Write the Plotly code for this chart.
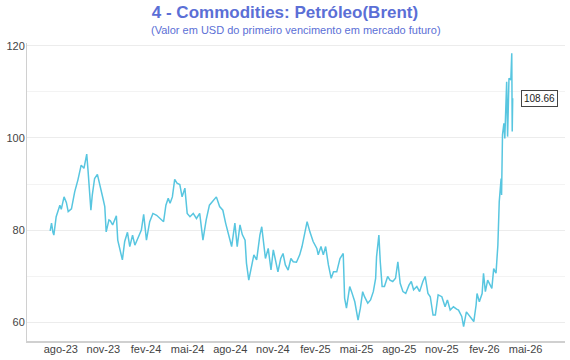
import plotly.graph_objects as go

dates = [
    "2023-07-09", "2023-07-12", "2023-07-15", "2023-07-17", "2023-07-22", "2023-07-30",
    "2023-08-02", "2023-08-08", "2023-08-13", "2023-08-17", "2023-08-24", "2023-08-31",
    "2023-09-07", "2023-09-14", "2023-09-20", "2023-09-26", "2023-09-29", "2023-10-05",
    "2023-10-08", "2023-10-13", "2023-10-19", "2023-10-24", "2023-10-31", "2023-11-04",
    "2023-11-07", "2023-11-13", "2023-11-16", "2023-11-21", "2023-11-29", "2023-12-02",
    "2023-12-08", "2023-12-12", "2023-12-17", "2023-12-23", "2023-12-28", "2024-01-03",
    "2024-01-08", "2024-01-15", "2024-01-22", "2024-01-27", "2024-02-02", "2024-02-09",
    "2024-02-16", "2024-02-24", "2024-03-05", "2024-03-10", "2024-03-15", "2024-03-20",
    "2024-03-24", "2024-03-29", "2024-04-03", "2024-04-08", "2024-04-14", "2024-04-19",
    "2024-04-25", "2024-04-30", "2024-05-06", "2024-05-13", "2024-05-20", "2024-05-27",
    "2024-06-03", "2024-06-10", "2024-06-17", "2024-06-24", "2024-07-02", "2024-07-09",
    "2024-07-16", "2024-07-22", "2024-07-27", "2024-08-04", "2024-08-11", "2024-08-16",
    "2024-08-22", "2024-08-27", "2024-09-02", "2024-09-05", "2024-09-10", "2024-09-15",
    "2024-09-21", "2024-09-27", "2024-10-04", "2024-10-08", "2024-10-11", "2024-10-16",
    "2024-10-22", "2024-10-28", "2024-11-02", "2024-11-07", "2024-11-12", "2024-11-18",
    "2024-11-23", "2024-11-28", "2024-12-04", "2024-12-10", "2024-12-15", "2024-12-22",
    "2024-12-29", "2025-01-03", "2025-01-09", "2025-01-14", "2025-01-20", "2025-01-27",
    "2025-02-04", "2025-02-07", "2025-02-13", "2025-02-18", "2025-02-23", "2025-03-01",
    "2025-03-07", "2025-03-12", "2025-03-19", "2025-03-26", "2025-04-02", "2025-04-05",
    "2025-04-09", "2025-04-16", "2025-04-20", "2025-04-27", "2025-05-04", "2025-05-09",
    "2025-05-14", "2025-05-18", "2025-05-25", "2025-05-31", "2025-06-06", "2025-06-11",
    "2025-06-13", "2025-06-18", "2025-06-21", "2025-06-25", "2025-06-30", "2025-07-07",
    "2025-07-12", "2025-07-18", "2025-07-24", "2025-07-29", "2025-08-03", "2025-08-09",
    "2025-08-15", "2025-08-22", "2025-08-27", "2025-09-01", "2025-09-08", "2025-09-14",
    "2025-09-21", "2025-09-26", "2025-10-02", "2025-10-07", "2025-10-13", "2025-10-18",
    "2025-10-24", "2025-11-01", "2025-11-08", "2025-11-13", "2025-11-19", "2025-11-26",
    "2025-12-03", "2025-12-07", "2025-12-14", "2025-12-18", "2025-12-24", "2025-12-29",
    "2026-01-02", "2026-01-09", "2026-01-14", "2026-01-16", "2026-01-21", "2026-01-27",
    "2026-01-30", "2026-02-03", "2026-02-08", "2026-02-14", "2026-02-17", "2026-02-21",
    "2026-02-26", "2026-03-02", "2026-03-05", "2026-03-09", "2026-03-10", "2026-03-12",
    "2026-03-15", "2026-03-17", "2026-03-21", "2026-03-23", "2026-03-26", "2026-03-30",
    "2026-04-01", "2026-04-02", "2026-04-03",
]

brent = [
    79.8, 81.5, 79.5, 78.9, 82.9, 85.4,
    84.5, 87.2, 86.0, 84.0, 84.6, 88.3,
    90.9, 94.1, 93.4, 96.5, 92.7, 84.3,
    87.6, 91.2, 92.1, 90.2, 86.9, 85.1,
    79.6, 82.2, 82.0, 81.1, 83.1, 77.8,
    75.3, 73.5, 77.5, 79.5, 76.4, 78.9,
    76.7, 78.5, 80.0, 83.4, 77.8, 81.8,
    83.6, 83.2, 82.2, 81.8, 85.4, 86.9,
    85.8, 87.2, 91.0, 90.2, 89.9, 87.2,
    89.1, 83.6, 82.9, 83.6, 82.5, 83.6,
    77.8, 82.2, 85.4, 86.2, 87.2, 85.1,
    84.3, 81.5, 79.3, 76.4, 81.5, 76.4,
    81.1, 79.0, 77.8, 72.8, 69.1, 72.0,
    74.6, 73.5, 78.9, 80.7, 77.8, 73.8,
    76.0, 71.3, 75.7, 73.1, 70.9, 73.8,
    74.9, 72.4, 71.3, 73.8, 73.1, 73.0,
    74.6, 76.4, 79.3, 81.8, 79.6, 77.5,
    76.0, 74.6, 76.4, 74.6, 76.4, 72.4,
    69.5, 70.9, 70.9, 73.8, 74.9, 65.2,
    63.0, 67.7, 66.6, 64.4, 60.4, 63.0,
    66.6, 65.5, 64.1, 64.8, 66.6, 69.5,
    74.2, 78.9, 73.1, 67.7, 67.7, 69.9,
    69.1, 68.8, 69.5, 73.1, 68.4, 66.6,
    66.2, 68.0, 68.8, 67.0, 67.7, 66.6,
    68.8, 69.9, 66.2, 65.5, 61.5, 61.5,
    65.9, 65.5, 63.3, 64.8, 62.6, 63.3,
    62.8, 62.6, 61.2, 59.0, 62.2, 61.5,
    61.2, 60.1, 63.7, 66.2, 64.4, 66.2,
    70.6, 66.6, 69.1, 67.7, 67.3, 71.6,
    70.6, 76.7, 86.2, 91.2, 87.6, 100.7,
    103.2, 99.9, 112.2, 100.3, 113.0, 112.6,
    118.4, 101.4, 108.66,
]

tick_dates = ["2023-08-01", "2023-11-01", "2024-02-01", "2024-05-01", "2024-08-01",
              "2024-11-01", "2025-02-01", "2025-05-01", "2025-08-01", "2025-11-01",
              "2026-02-01", "2026-05-01"]
tick_labels = ["ago-23", "nov-23", "fev-24", "mai-24", "ago-24", "nov-24",
               "fev-25", "mai-25", "ago-25", "nov-25", "fev-26", "mai-26"]

title_text = "4 - Commodities: Petróleo(Brent)"
subtitle_text = "(Valor em USD do primeiro vencimento em mercado futuro)"

FONT = "Liberation Sans, Arial, Helvetica, sans-serif"
BLUE = "#5b6fd6"
LINE = "#58c6e0"

fig = go.Figure()
fig.add_trace(go.Scatter(x=dates, y=brent, mode="lines",
                         line=dict(color=LINE, width=1.5), hoverinfo="skip",
                         showlegend=False))

fig.add_annotation(x=dates[-1], y=brent[-1], text=f"{brent[-1]:.2f}",
                   showarrow=False, xanchor="left", xshift=8,
                   font=dict(family=FONT, size=10, color="#222"),
                   bordercolor="#444", borderwidth=1, borderpad=2, bgcolor="white")

fig.add_annotation(x=0.5, xref="paper", y=1, yref="paper", yanchor="middle",
                   yshift=13, text=subtitle_text, showarrow=False,
                   font=dict(family=FONT, size=11, color=BLUE))

fig.update_layout(
    width=570, height=360,
    margin=dict(l=27, r=5, t=43, b=19, autoexpand=False),
    paper_bgcolor="white", plot_bgcolor="white",
    hovermode=False,
    font=dict(family=FONT, size=11, color="#444"),
    title=dict(text=f"<b>{title_text}</b>", x=0.5, xanchor="center",
               xref="container", yref="container", y=1 - 12 / 360, yanchor="middle",
               font=dict(family=FONT, size=17, color=BLUE)),
    xaxis=dict(type="date", range=["2023-05-20", "2026-07-25"], automargin=False,
               tickvals=tick_dates, ticktext=tick_labels, showgrid=False,
               showline=True, linecolor="#d0d0d0", linewidth=1.5, ticks="", ticklen=0,
               ticklabelstandoff=-3,
               tickfont=dict(size=11, color="#444"), zeroline=False),
    yaxis=dict(range=[55.87, 120.65], tickvals=[60, 80, 100, 120], automargin=False,
               showgrid=True, gridcolor="#ececec", gridwidth=1,
               minor=dict(tickvals=[70, 90, 110], showgrid=True, gridcolor="#f3f3f3"),
               showline=True, linecolor="#d0d0d0", linewidth=1, ticks="", ticklen=0,
               ticklabelstandoff=-1,
               tickfont=dict(size=11, color="#444"), zeroline=False),
)

fig.write_html("out.html", config={"displayModeBar": False, "staticPlot": True},
               post_script="document.body.style.margin='0';document.body.style.overflow='hidden';")
